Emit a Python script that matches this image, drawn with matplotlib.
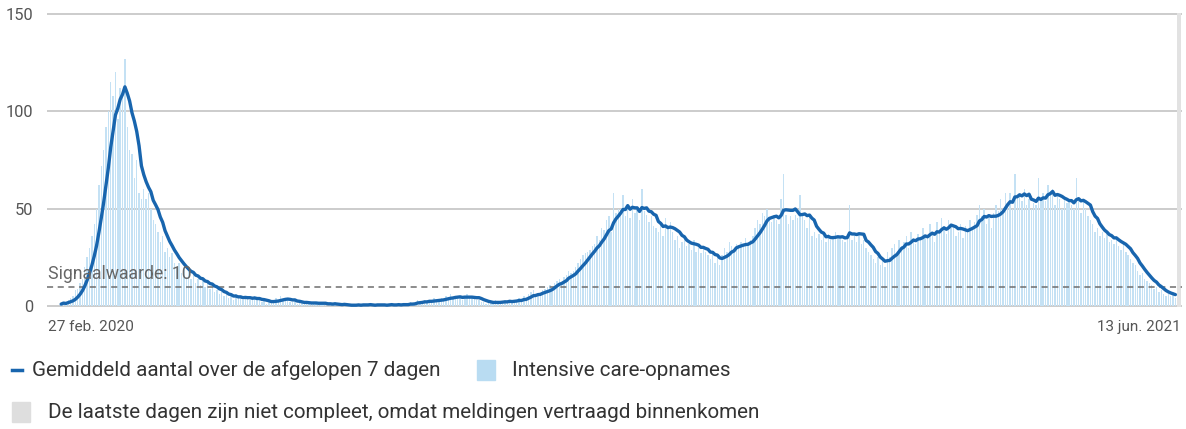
import matplotlib; matplotlib.use('Agg')
import matplotlib.pyplot as plt
from matplotlib.patches import Rectangle
from matplotlib.lines import Line2D
import numpy as np, pandas as pd

plt.rcParams['font.family'] = ['Roboto', 'DejaVu Sans']

# ═══════════════ DATA ═══════════════
start = '2020-02-27'
signal_value = 10
incomplete_days = 2
# daily IC admissions, one row per week
ic_daily = [
    1, 2, 1, 3, 4, 5, 8,
    9, 12, 14, 20, 25, 30, 36,
    42, 50, 62, 72, 80, 92, 100,
    115, 108, 120, 96, 112, 110, 127,
    92, 80, 78, 66, 75, 58, 55,
    60, 55, 58, 50, 44, 42, 38,
    33, 36, 28, 30, 25, 27, 22,
    20, 22, 17, 19, 15, 18, 14,
    16, 12, 14, 11, 13, 10, 12,
    9, 10, 7, 8, 6, 7, 5,
    6, 4, 5, 3, 6, 4, 5,
    3, 5, 4, 3, 4, 5, 3,
    3, 2, 3, 1, 2, 2, 3,
    4, 3, 5, 3, 4, 3, 2,
    2, 3, 1, 2, 2, 1, 2,
    1, 2, 1, 2, 1, 1, 2,
    1, 0, 1, 1, 2, 0, 1,
    0, 1, 0, 0, 1, 0, 1,
    1, 0, 1, 0, 1, 1, 0,
    0, 1, 1, 0, 1, 0, 1,
    1, 0, 1, 1, 0, 1, 1,
    1, 2, 1, 2, 3, 2, 2,
    3, 2, 3, 2, 4, 3, 3,
    4, 3, 5, 4, 6, 4, 5,
    5, 4, 3, 5, 6, 4, 5,
    4, 3, 3, 2, 2, 1, 2,
    2, 1, 3, 2, 2, 2, 3,
    2, 3, 2, 3, 3, 4, 3,
    5, 4, 6, 7, 8, 5, 6,
    6, 8, 9, 10, 11, 9, 12,
    13, 14, 12, 15, 16, 18, 17,
    18, 20, 22, 24, 26, 27, 28,
    29, 31, 32, 36, 34, 40, 39,
    44, 46, 38, 58, 48, 50, 50,
    57, 46, 52, 45, 55, 48, 50,
    44, 60, 49, 47, 43, 46, 41,
    40, 38, 42, 36, 45, 40, 43,
    38, 34, 36, 30, 33, 35, 31,
    32, 29, 34, 28, 30, 27, 31,
    28, 26, 24, 27, 22, 25, 21,
    26, 30, 28, 33, 31, 29, 32,
    30, 33, 31, 35, 32, 34, 36,
    40, 44, 42, 48, 46, 50, 45,
    43, 47, 44, 42, 55, 68, 47,
    42, 46, 44, 47, 45, 57, 48,
    44, 40, 46, 36, 38, 35, 37,
    34, 36, 33, 37, 34, 35, 38,
    36, 35, 34, 33, 35, 52, 34,
    36, 33, 37, 32, 34, 30, 28,
    26, 24, 22, 25, 21, 23, 20,
    28, 25, 30, 32, 27, 34, 31,
    33, 36, 30, 38, 35, 32, 37,
    34, 40, 36, 35, 42, 38, 33,
    43, 39, 45, 41, 37, 44, 42,
    40, 36, 38, 42, 35, 41, 39,
    44, 40, 43, 47, 52, 46, 50,
    42, 45, 40, 48, 52, 49, 55,
    50, 58, 53, 58, 50, 68, 56,
    57, 54, 60, 52, 55, 50, 53,
    52, 66, 55, 58, 54, 62, 57,
    60, 52, 58, 55, 50, 56, 53,
    55, 52, 50, 66, 54, 48, 55,
    50, 46, 44, 42, 38, 40, 36,
    38, 35, 37, 33, 34, 32, 36,
    31, 29, 32, 28, 26, 24, 22,
    21, 18, 16, 17, 14, 13, 12,
    11, 9, 10, 7, 8, 6, 5,
    6, 5, 7, 4,
]
yticks = [0, 50, 100, 150]

df = pd.DataFrame({'ic': ic_daily},
                  index=pd.date_range(start, periods=len(ic_daily), freq='D'))
df['avg7'] = df['ic'].rolling(7, min_periods=1).mean()
first, last = df.index[0], df.index[-1]

# ═══════════════ PLOT ═══════════════
BLUE = '#1865ae'; LIGHT = '#c4e1f4'; GRID = '#c8c8c8'; TXT = '#555555'
fig = plt.figure(figsize=(11.86, 4.29), dpi=100)
ax = fig.add_axes([47/1186, 1-307/429, (1182-47)/1186, 294/429])

ax.bar(df.index, df['ic'], width=0.6, color=LIGHT, edgecolor='none', zorder=2)
ax.plot(df.index, df['avg7'], color=BLUE, lw=2.4, zorder=4, solid_capstyle='round')
ax.axvspan(last + pd.Timedelta(hours=18), last + pd.Timedelta(days=incomplete_days, hours=12),
           color='#e2e2e2', zorder=1, lw=0)
ax.axhline(signal_value, color='#6e6e6e', lw=1.1, ls=(0, (4, 3)), zorder=3)
ax.text(first - pd.Timedelta(days=5.5), signal_value + 2.0, f'Signaalwaarde: {signal_value}',
        fontsize=12.7, color='#666666', va='bottom', ha='left', zorder=5)

ax.set_ylim(-0.5, 150.5)
ax.set_xlim(first - pd.Timedelta(days=6), last + pd.Timedelta(days=2.8))
ax.set_yticks(yticks)
ax.yaxis.grid(True, color=GRID, lw=1.3, zorder=0)
ax.set_axisbelow(True)
ax.tick_params(axis='y', length=0, labelsize=11.8, labelcolor=TXT, pad=10)
ax.set_xticks([])
for s in ax.spines.values(): s.set_visible(False)

fig.text(48/1186, 1-327/429, f"{first.day} feb. {first.year}", fontsize=11,
         color=TXT, ha='left', va='center')
fig.text(1181/1186, 1-327/429, f"{last.day} jun. {last.year}", fontsize=11,
         color=TXT, ha='right', va='center')

# legend
fig.add_artist(Line2D([12/1186, 22/1186], [1-370/429]*2, color=BLUE, lw=2.5))
fig.text(32/1186, 1-370/429, 'Gemiddeld aantal over de afgelopen 7 dagen', fontsize=14.9,
         color='#333333', va='center', ha='left')
fig.add_artist(Rectangle((477/1186, 1-380/429), 18/1186, 20/429, color='#b9dcf2',
                         transform=fig.transFigure))
fig.text(512/1186, 1-370/429, 'Intensive care-opnames', fontsize=14.9,
         color='#333333', va='center', ha='left')
fig.add_artist(Rectangle((12/1186, 1-422/429), 18/1186, 20/429, color='#dedede',
                         transform=fig.transFigure))
fig.text(48/1186, 1-412/429, 'De laatste dagen zijn niet compleet, omdat meldingen vertraagd binnenkomen',
         fontsize=14.9, color='#333333', va='center', ha='left')

fig.savefig('out.png', dpi=100, facecolor='white')
plt.close(fig)
